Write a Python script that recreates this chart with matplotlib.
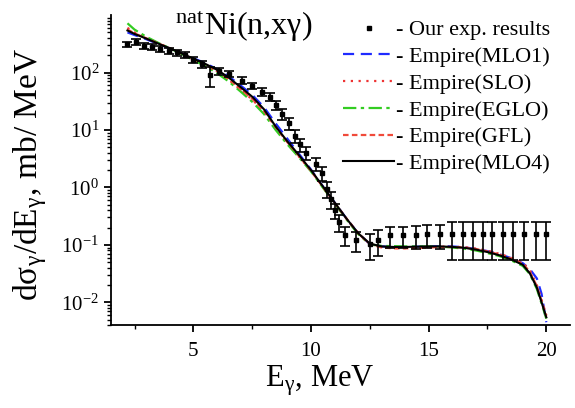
import matplotlib
matplotlib.use("Agg")
import matplotlib.pyplot as plt
from matplotlib.lines import Line2D
from matplotlib.ticker import LogLocator, MultipleLocator, NullFormatter

plt.rcParams['font.family'] = ['Liberation Serif', 'DejaVu Serif']
plt.rcParams['mathtext.fontset'] = 'stix'

# experimental points
E_exp = [2.2, 2.55, 2.9, 3.25, 3.6, 3.95, 4.3, 4.65, 5.0, 5.35,
         5.7, 6.1, 6.5, 7.05, 7.5, 7.9, 8.25, 8.5, 8.75, 9.05, 9.3,
         9.55, 9.8, 10.2, 10.45, 10.7, 10.85, 11.0, 11.2, 11.45, 11.9,
         12.5, 12.85, 13.35, 13.9, 14.45, 14.95, 15.5, 16.0, 16.45, 16.9,
         17.3, 17.7, 18.15, 18.6, 19.05, 19.55, 20.0]
y_exp = [310, 340, 295, 275, 257, 240, 224, 200, 166, 141,
         90, 107, 95, 72, 59, 46, 38, 27, 19, 13, 8.0,
         5.6, 4.0, 2.6, 1.8, 0.95, 0.62, 0.4, 0.25, 0.15, 0.12,
         0.105, 0.123, 0.148, 0.148, 0.15, 0.155, 0.155, 0.155, 0.155, 0.155,
         0.155, 0.155, 0.155, 0.155, 0.155, 0.155, 0.155]
err_exp = [37, 40, 35, 33, 30, 28, 27, 24, 22, 20,
           35, 15, 13, 10, 8, 7, 6, 5, 4, 3, 2.0,
           1.4, 1.0, 0.65, 0.5, 0.3, 0.2, 0.12, 0.08, 0.055, 0.045,
           0.05, 0.06, 0.06, 0.06, 0.065, 0.065, 0.07, 0.1, 0.1, 0.1,
           0.1, 0.1, 0.1, 0.1, 0.1, 0.1, 0.1]

# Empire calculations
E_calc = [2.2, 2.5, 3.0, 3.5, 4.0, 4.5, 5.0, 5.5, 6.0, 6.5, 7.0, 7.5, 8.0, 8.5,
          9.0, 9.5, 10.0, 10.5, 11.0, 11.5, 12.0, 12.5, 13.0, 13.5, 14.0, 14.5,
          15.0, 15.5, 16.0, 16.5, 17.0, 17.5, 18.0, 18.5, 19.0, 19.3, 19.6, 19.8, 20.0]
mlo1 = [500, 450, 380, 315, 262, 215, 178, 146, 115, 86, 60, 41, 25, 13,
        7.0, 3.8, 2.05, 1.05, 0.55, 0.29, 0.16, 0.104, 0.094, 0.092, 0.092, 0.093,
        0.094, 0.095, 0.094, 0.091, 0.085, 0.078, 0.069, 0.059, 0.048, 0.038, 0.026, 0.014, 0.0045]
slo = [600, 500, 400, 325, 265, 212, 170, 136, 104, 75, 51, 34, 21, 11,
       6.0, 3.4, 1.95, 1.02, 0.54, 0.29, 0.16, 0.104, 0.092, 0.088, 0.088, 0.089,
       0.091, 0.093, 0.093, 0.091, 0.086, 0.079, 0.07, 0.06, 0.049, 0.036, 0.02, 0.011, 0.006]
eglo = [720, 560, 420, 330, 265, 210, 165, 130, 98, 70, 47, 31, 19, 10,
        5.6, 3.3, 1.9, 1.0, 0.53, 0.28, 0.155, 0.102, 0.096, 0.095, 0.094, 0.094,
        0.094, 0.093, 0.09, 0.086, 0.08, 0.072, 0.064, 0.054, 0.043, 0.031, 0.017, 0.0095, 0.0052]
gfl = [560, 480, 395, 322, 265, 213, 171, 138, 106, 77, 52, 35, 21.5, 11.2,
       6.1, 3.5, 1.95, 1.03, 0.54, 0.29, 0.16, 0.103, 0.09, 0.087, 0.087, 0.088,
       0.09, 0.092, 0.092, 0.09, 0.085, 0.077, 0.068, 0.058, 0.047, 0.034, 0.019, 0.0105, 0.0058]
mlo4 = [540, 470, 390, 320, 265, 215, 175, 142, 112, 82, 56, 38, 23, 11.5,
        6.3, 3.6, 2.0, 1.05, 0.55, 0.29, 0.16, 0.105, 0.094, 0.092, 0.092, 0.093,
        0.094, 0.094, 0.092, 0.089, 0.083, 0.075, 0.066, 0.056, 0.045, 0.032, 0.018, 0.010, 0.0055]

fig = plt.figure(figsize=(5.75, 4.08), dpi=100)
ax = fig.add_axes([0.193, 0.203, 0.798, 0.76])

ax.errorbar(E_exp, y_exp, yerr=err_exp, fmt='s', color='black', ms=3.5,
            elinewidth=1.2, capsize=3.5, capthick=1.2, zorder=5)
ax.plot(E_calc, mlo1, color='#1f2bff', ls=(0, (5, 3)), lw=1.6, label='- Empire(MLO1)')
ax.plot(E_calc, slo, color='#ee3333', ls=(0, (1, 2.5)), lw=1.6, label='- Empire(SLO)')
ax.plot(E_calc, eglo, color='#33cc22', ls=(0, (6, 2, 1.5, 2)), lw=1.6, label='- Empire(EGLO)')
ax.plot(E_calc, gfl, color='#f04a3a', ls=(0, (2.5, 1.5)), lw=1.6, label='- Empire(GFL)')
ax.plot(E_calc, mlo4, color='black', ls='-', lw=1.5, label='- Empire(MLO4)')

ax.set_yscale('log')
ax.set_xlim(1.5, 21)
ax.set_ylim(4e-3, 1e3)

for side in ['top', 'right']:
    ax.spines[side].set_visible(False)
ax.spines['left'].set_linewidth(1.3)
ax.spines['bottom'].set_linewidth(1.3)

ax.xaxis.set_major_locator(MultipleLocator(5))
ax.xaxis.set_minor_locator(MultipleLocator(2.5))
ax.yaxis.set_major_locator(LogLocator(base=10, numticks=10))
ax.yaxis.set_minor_locator(LogLocator(base=10, subs=range(2, 10), numticks=10))
ax.yaxis.set_minor_formatter(NullFormatter())
ax.tick_params(which='major', direction='out', length=5, width=1.3, labelsize=15)
ax.tick_params(which='minor', direction='out', length=3, width=1.0)
ax.tick_params(axis='x', which='major', pad=7)
ax.set_yticks([1e-2, 1e-1, 1, 1e1, 1e2])

ax.set_xlabel(r'E$_\mathregular{γ}$, MeV', fontsize=22)
ax.xaxis.set_label_coords(0.455, -0.125)
ax.set_ylabel(r'dσ$_\mathregular{γ}$/dE$_\mathregular{γ}$, mb/ MeV', fontsize=24)
ax.yaxis.set_label_coords(-0.135, 0.485)

ax.text(0.14, 1.02, r'$^\mathregular{nat}$Ni(n,xγ)', transform=ax.transAxes,
        fontsize=23, va='top', ha='left')

# legend: exp marker first, then the calculations
exp_handle = Line2D([], [], ls='none', marker='s', color='black', ms=3.5)
handles, labels = ax.get_legend_handles_labels()
ax.legend([exp_handle] + handles, ['- Our exp. results'] + labels,
          loc='upper right', bbox_to_anchor=(0.956, 0.985), frameon=False, fontsize=16,
          handlelength=2.3, handletextpad=0.05, labelspacing=0.28,
          borderpad=0.0, borderaxespad=0.0)

fig.savefig('out.png', dpi=100)
